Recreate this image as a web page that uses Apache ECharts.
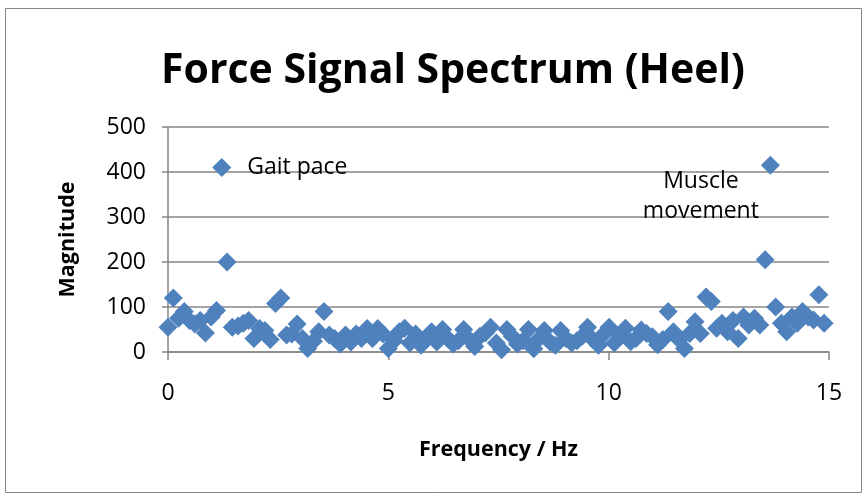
<!DOCTYPE html>
<html>
<head>
<meta charset="utf-8">
<script src="https://cdn.jsdelivr.net/npm/echarts@6/dist/echarts.min.js"></script>
<style>
  html, body { margin: 0; padding: 0; background: #ffffff; }
  #chart { width: 864px; height: 495px; }
</style>
</head>
<body>
<div id="chart"></div>
<script>
// Frequency bins (Hz)
const frequency = [
  0.00, 0.12, 0.24, 0.37, 0.49, 0.61, 0.73, 0.85, 0.98, 1.10,
  1.22, 1.34, 1.46, 1.59, 1.71, 1.83, 1.95, 2.08, 2.20, 2.32,
  2.44, 2.56, 2.69, 2.81, 2.93, 3.05, 3.17, 3.30, 3.42, 3.54,
  3.66, 3.78, 3.91, 4.03, 4.15, 4.27, 4.39, 4.52, 4.64, 4.76,
  4.88, 5.00, 5.13, 5.25, 5.37, 5.49, 5.62, 5.74, 5.86, 5.98,
  6.10, 6.23, 6.35, 6.47, 6.59, 6.71, 6.84, 6.96, 7.08, 7.20,
  7.32, 7.45, 7.57, 7.69, 7.81, 7.93, 8.06, 8.18, 8.30, 8.42,
  8.54, 8.67, 8.79, 8.91, 9.03, 9.16, 9.28, 9.40, 9.52, 9.64,
  9.77, 9.89, 10.01, 10.13, 10.25, 10.38, 10.50, 10.62, 10.74, 10.86,
  10.99, 11.11, 11.23, 11.35, 11.47, 11.60, 11.72, 11.84, 11.96, 12.08,
  12.21, 12.33, 12.45, 12.57, 12.70, 12.82, 12.94, 13.06, 13.18, 13.31,
  13.43, 13.55, 13.67, 13.79, 13.92, 14.04, 14.16, 14.28, 14.40, 14.53,
  14.65, 14.77, 14.89
];

// Spectrum magnitude at each bin
const magnitude = [
  55, 120, 75, 90, 70, 62, 70, 42, 78, 92,
  410, 200, 55, 58, 64, 70, 30, 52, 48, 28,
  108, 120, 38, 40, 62, 30, 8, 24, 45, 90,
  38, 30, 18, 38, 22, 40, 30, 52, 30, 52,
  40, 8, 25, 45, 53, 20, 40, 15, 28, 45,
  22, 50, 30, 18, 25, 50, 28, 12, 35, 42,
  55, 20, 5, 50, 35, 18, 25, 50, 7, 30,
  48, 22, 15, 48, 30, 20, 25, 35, 55, 28,
  15, 40, 55, 20, 38, 53, 23, 30, 49, 41,
  34, 16, 28, 90, 45, 27, 8, 41, 67, 41,
  122, 112, 53, 64, 45, 70, 30, 78, 60, 75,
  60, 205, 415, 100, 64, 45, 78, 64, 90, 78,
  71, 127, 64
];

// Annotated peaks: bin index -> label
const peakLabels = { 10: 'Gait pace', 112: 'Muscle\nmovement' };

const xTicks = [0, 5, 10, 15];
const yTicks = [0, 100, 200, 300, 400, 500];

const FONT = '"Open Sans", "Noto Sans", sans-serif';
const GRID_GRAY = '#868686';

const points = frequency.map((f, i) => {
  const item = { value: [f, magnitude[i]] };
  if (i === 10) {
    item.label = {
      show: true, formatter: peakLabels[i], position: 'right', distance: 16,
      color: '#000', fontSize: 23, fontFamily: FONT
    };
  } else if (i === 112) {
    item.label = {
      show: true, formatter: peakLabels[i], position: [-60, 11],
      align: 'center', verticalAlign: 'top', lineHeight: 30,
      color: '#000', fontSize: 23, fontFamily: FONT
    };
  }
  return item;
});

const chart = echarts.init(document.getElementById('chart'), null, { renderer: 'canvas' });
chart.setOption({
  animation: false,
  backgroundColor: '#ffffff',
  title: {
    text: 'Force Signal Spectrum (Heel)',
    left: 156, top: 46,
    textStyle: { fontFamily: FONT, fontWeight: 'bold', fontSize: 41, color: '#000' }
  },
  graphic: [{
    type: 'rect', silent: true, z: -1,
    shape: { x: 5.5, y: 8.5, width: 856, height: 484 },
    style: { fill: 'none', stroke: GRID_GRAY, lineWidth: 1 }
  }],
  grid: { left: 168, right: 35, top: 127, bottom: 143 },
  xAxis: {
    type: 'value', min: 0, max: 15, interval: 5,
    name: 'Frequency / Hz', nameLocation: 'middle', nameGap: 87,
    nameTextStyle: { fontFamily: FONT, fontWeight: 'bold', fontSize: 21.5, color: '#000' },
    axisLine: { show: true, onZero: false, lineStyle: { color: GRID_GRAY, width: 1.5 } },
    axisTick: { show: true, length: 8, lineStyle: { color: GRID_GRAY, width: 1.5 } },
    axisLabel: {
      margin: 30, fontFamily: FONT, fontSize: 23, color: '#000',
      formatter: v => (xTicks.includes(v) ? String(v) : '')
    },
    splitLine: { show: false }
  },
  yAxis: {
    type: 'value', min: 0, max: 500, interval: 100,
    name: 'Magnitude', nameLocation: 'middle', nameGap: 89, nameRotate: 90,
    nameTextStyle: { fontFamily: FONT, fontWeight: 'bold', fontSize: 21.5, color: '#000' },
    axisLine: { show: true, lineStyle: { color: GRID_GRAY, width: 1.5 } },
    axisTick: { show: true, length: 6, lineStyle: { color: GRID_GRAY, width: 1.5 } },
    axisLabel: {
      margin: 22, fontFamily: FONT, fontSize: 23, color: '#000',
      formatter: v => (yTicks.includes(v) ? String(v) : '')
    },
    splitLine: { show: true, lineStyle: { color: GRID_GRAY, width: 1.5 } }
  },
  series: [{
    type: 'scatter',
    symbol: 'diamond',
    symbolSize: 19,
    itemStyle: { color: '#4F81BD', opacity: 1 },
    data: points
  }]
});
</script>
</body>
</html>
